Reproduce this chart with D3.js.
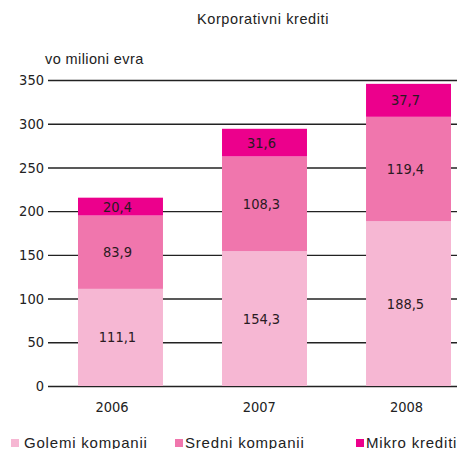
<!DOCTYPE html>
<html><head><meta charset="utf-8">
<script src="https://cdn.jsdelivr.net/npm/d3@7"></script>
<style>body{margin:0;background:#fff}svg{display:block}</style>
</head><body>
<svg id="c" width="457" height="449"></svg>
<script>
const years = ["2006", "2007", "2008"];
const golemi = [111.1, 154.3, 188.5];
const sredni = [83.9, 108.3, 119.4];
const mikro = [20.4, 31.6, 37.7];
const seriesNames = ["Golemi kompanii", "Sredni kompanii", "Mikro krediti"];
const seriesColors = ["#f6b7d3", "#f076ad", "#ec008c"];
const yTicks = [0, 50, 100, 150, 200, 250, 300, 350];
const fmt = v => v.toFixed(1).replace(".", ",");

const svg = d3.select("#c");
const FONT = "'Liberation Sans', Arial, sans-serif";
const NFONT = "'DejaVu Sans Condensed', 'Liberation Sans', sans-serif";

const y = d3.scaleLinear().domain([0, 350]).range([386, 80]);
const x = d3.scaleBand().domain(years).range([78, 451]).paddingInner(0.41).paddingOuter(0);
const xl = d3.scalePoint().domain(years).range([111.5, 406]);

// title
svg.append("text").attr("x", 263).attr("y", 24).attr("text-anchor", "middle")
  .attr("font-family", FONT).attr("font-size", 14.5).attr("letter-spacing", 0.6)
  .attr("fill", "#222").text("Korporativni krediti");
svg.append("text").attr("x", 45).attr("y", 64)
  .attr("font-family", FONT).attr("font-size", 14.5).attr("letter-spacing", 0.4)
  .attr("fill", "#222").text("vo milioni evra");

// gridlines + y axis labels
const yAxis = d3.axisLeft(y).tickValues(yTicks).tickSize(-409).tickPadding(4).tickFormat(d => d);
const ga = svg.append("g").attr("transform", "translate(48,0)").call(yAxis);
ga.select(".domain").remove();
ga.selectAll(".tick line").attr("stroke", "#222").attr("stroke-width", 1.4);
ga.selectAll(".tick text").attr("font-family", NFONT).attr("font-size", 14.5).attr("fill", "#222");

// stacked bars
const table = years.map((yr, i) => ({year: yr, golemi: golemi[i], sredni: sredni[i], mikro: mikro[i]}));
const stack = d3.stack().keys(["golemi", "sredni", "mikro"])(table);
const layers = svg.append("g").selectAll("g").data(stack).join("g")
  .attr("fill", (d, i) => seriesColors[i]);
layers.selectAll("rect").data(d => d).join("rect")
  .attr("x", d => x(d.data.year)).attr("width", x.bandwidth())
  .attr("y", d => y(d[1])).attr("height", d => y(d[0]) - y(d[1]));
layers.selectAll("text").data(d => d).join("text")
  .attr("x", d => x(d.data.year) + x.bandwidth() / 2 - 3)
  .attr("y", d => (y(d[0]) + y(d[1])) / 2 + 5)
  .attr("text-anchor", "middle").attr("font-family", NFONT).attr("font-size", 14.5)
  .attr("fill", "#2a1a22").text(d => fmt(d[1] - d[0]));

// x labels
const xAxis = d3.axisBottom(xl).tickSize(0).tickPadding(0);
const gx = svg.append("g").attr("transform", "translate(0,407)").call(xAxis);
gx.select(".domain").remove();
gx.selectAll(".tick text").attr("font-family", NFONT).attr("font-size", 14.5).attr("fill", "#222").attr("dy", "0.35em");

// legend
const legX = [11, 175, 356];
const lg = svg.append("g").selectAll("g").data(seriesNames).join("g")
  .attr("transform", (d, i) => `translate(${legX[i]},439)`);
lg.append("rect").attr("width", 8).attr("height", 8).attr("fill", (d, i) => seriesColors[i]);
lg.append("text").attr("x", (d, i) => i === 0 ? 13 : 10).attr("y", 8.5)
  .attr("font-family", FONT).attr("font-size", 15).attr("letter-spacing", 0.8)
  .attr("fill", "#222").text(d => d);
</script>
</body></html>
